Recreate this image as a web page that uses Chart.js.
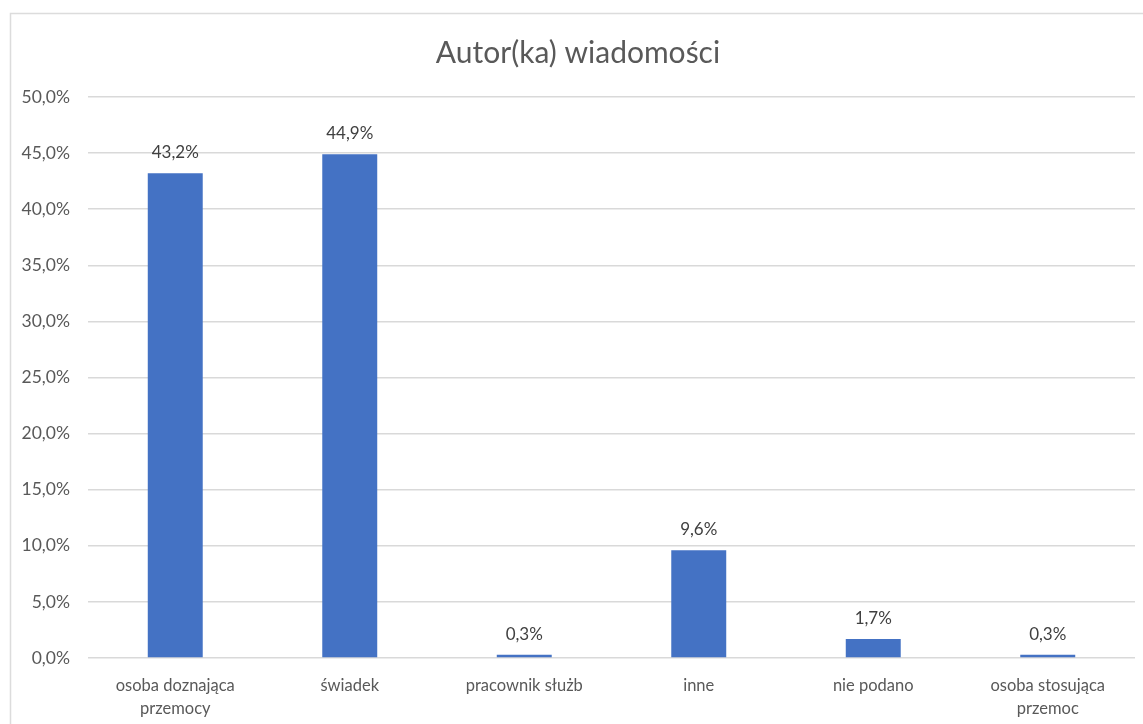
<!DOCTYPE html>
<html>
<head>
<meta charset="utf-8">
<script src="https://cdn.jsdelivr.net/npm/chart.js@4.4.0/dist/chart.umd.min.js"></script>
<style>
  html, body { margin: 0; padding: 0; background: #fff; }
  #wrap { width: 1143px; height: 724px; }
</style>
</head>
<body>
<div id="wrap"><canvas id="wykres" width="1143" height="724"></canvas></div>
<script>
// dane z wykresu
const kategorie = [
    ["osoba doznająca", "przemocy"],
    "świadek",
    "pracownik służb",
    "inne",
    "nie podano",
    ["osoba stosująca", "przemoc"]
];
const wartosci = [43.2, 44.9, 0.3, 9.6, 1.7, 0.3];
const tytul = "Autor(ka) wiadomości";

const fmt = v => v.toFixed(1).replace(".", ",") + "%";

// ramka wokół wykresu (lewa i górna krawędź)
const ramka = {
    id: "ramka",
    beforeDraw(chart) {
        const c = chart.ctx;
        c.save();
        c.strokeStyle = "#dcdcdc";
        c.lineWidth = 1.5;
        c.beginPath();
        c.moveTo(10.5, chart.height);
        c.lineTo(10.5, 13.5);
        c.lineTo(chart.width, 13.5);
        c.stroke();
        c.restore();
    }
};

// etykiety nad słupkami
const etykiety = {
    id: "etykiety",
    afterDatasetsDraw(chart) {
        const c = chart.ctx;
        const meta = chart.getDatasetMeta(0);
        c.save();
        c.font = "17px Lato";
        c.fillStyle = "#404040";
        c.textAlign = "center";
        c.textBaseline = "bottom";
        meta.data.forEach((bar, i) => {
            c.fillText(fmt(wartosci[i]), bar.x, bar.y - 12);
        });
        c.restore();
    }
};

new Chart(document.getElementById("wykres"), {
    type: "bar",
    data: {
        labels: kategorie,
        datasets: [{
            data: wartosci,
            backgroundColor: "#4472C4",
            categoryPercentage: 1,
            barPercentage: 0.315
        }]
    },
    options: {
        responsive: false,
        animation: false,
        layout: { padding: { left: 21, right: 8, top: 0, bottom: 0 } },
        plugins: {
            legend: { display: false },
            tooltip: { enabled: false },
            title: {
                display: true,
                text: tytul,
                color: "#595959",
                font: { family: "Lato", size: 30, weight: "normal" },
                padding: { top: 35, bottom: 26 }
            }
        },
        scales: {
            x: {
                grid: { display: false, drawTicks: false },
                border: { display: false },
                ticks: {
                    color: "#595959",
                    font: { family: "Lato", size: 16.5, lineHeight: 1.4 },
                    padding: 16,
                    maxRotation: 0,
                    autoSkip: false
                },
                afterFit(scale) { scale.height = 66; }
            },
            y: {
                min: 0,
                max: 50,
                grid: { color: "#d9d9d9", lineWidth: 1.5, drawTicks: false },
                border: { display: false },
                ticks: {
                    stepSize: 5,
                    color: "#595959",
                    font: { family: "Lato", size: 17.5 },
                    padding: 18,
                    callback: v => fmt(v)
                },
                afterFit(scale) { scale.width = 67; }
            }
        }
    },
    plugins: [ramka, etykiety]
});
</script>
</body>
</html>
